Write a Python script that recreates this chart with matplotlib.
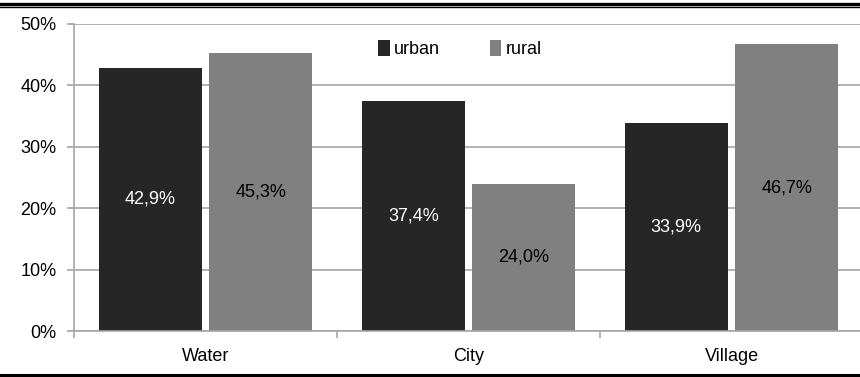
import matplotlib
matplotlib.use("Agg")
import matplotlib.pyplot as plt
from matplotlib.lines import Line2D
from matplotlib.patches import Patch
from matplotlib.ticker import FixedLocator, FuncFormatter

plt.rcParams['font.family'] = ['Liberation Sans', 'DejaVu Sans']

categories = ["Water", "City", "Village"]
urban = [42.9, 37.4, 33.9]
rural = [45.3, 24.0, 46.7]
yticks = [0, 10, 20, 30, 40, 50]

URBAN_C = "#262626"
RURAL_C = "#808080"
GRID_C = "#a6a6a6"
FS = 13

fig = plt.figure(figsize=(8.6, 3.77), dpi=100)
ax = fig.add_axes([74 / 860, (377 - 331) / 377, 786 / 860, (331 - 24) / 377])

centers = [i + 0.5 for i in range(len(categories))]
w = 0.39
gap = 0.03
xu = [c - gap / 2 - w / 2 for c in centers]
xr = [c + gap / 2 + w / 2 for c in centers]

ax.bar(xu, urban, width=w, color=URBAN_C, zorder=3)
ax.bar(xr, rural, width=w, color=RURAL_C, zorder=3)

for x, v in zip(xu, urban):
    ax.text(x, v / 2, f"{v:.1f}%".replace(".", ","), ha="center", va="center",
            color="white", fontsize=FS, zorder=4)
for x, v in zip(xr, rural):
    ax.text(x, v / 2, f"{v:.1f}%".replace(".", ","), ha="center", va="center",
            color="black", fontsize=FS, zorder=4)

ax.set_xlim(0, 786 / 263)
ax.set_ylim(0, 50)
ax.set_yticks(yticks)
ax.yaxis.set_major_formatter(FuncFormatter(lambda v, p: f"{int(v)}%"))
ax.yaxis.grid(True, color=GRID_C, linewidth=1.2, zorder=0)

ax.set_xticks(centers)
ax.set_xticklabels(categories)
ax.xaxis.set_minor_locator(FixedLocator([0, 1, 2, 3]))
ax.tick_params(axis="x", which="major", length=0, pad=12.5, labelsize=FS)
ax.tick_params(axis="x", which="minor", length=5, color=GRID_C, width=1.2)
ax.tick_params(axis="y", length=5.3, color=GRID_C, width=1.2, pad=7.3, labelsize=FS)

for s in ["top", "right"]:
    ax.spines[s].set_visible(False)
for s in ["left", "bottom"]:
    ax.spines[s].set_color(GRID_C)
    ax.spines[s].set_linewidth(1.2)
    ax.spines[s].set_zorder(5)

handles = [Patch(facecolor=URBAN_C, label="urban"), Patch(facecolor=RURAL_C, label="rural")]
ax.legend(handles=handles, ncol=2, frameon=False, fontsize=FS,
          handlelength=0.62, handleheight=1.05, handletextpad=0.25, columnspacing=2.75,
          loc="center", bbox_to_anchor=((460 - 74) / 786, (331 - 49) / 307))

# decorative rules above and below the chart
fig.add_artist(Line2D([0, 1], [1 - 3.5 / 377] * 2, color="black", linewidth=2.4))
fig.add_artist(Line2D([0, 1], [1 - 6.8 / 377] * 2, color="black", linewidth=1.0))
fig.add_artist(Line2D([0, 1], [1 - 375 / 377] * 2, color="black", linewidth=2.2))

fig.savefig("out.png", dpi=100)
